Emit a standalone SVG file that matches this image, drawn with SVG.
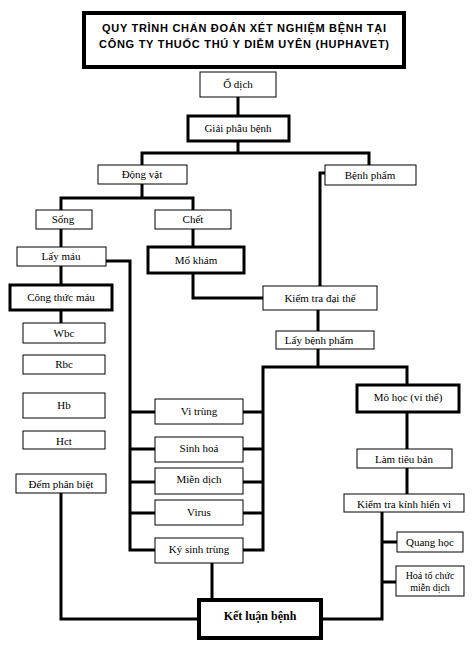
<svg xmlns="http://www.w3.org/2000/svg" width="472" height="648" viewBox="0 0 472 648">
<style>
.bx{fill:#fff;stroke:#000;stroke-width:1}
.bk{fill:#fff;stroke:#000;stroke-width:3}
.bt{fill:#fff;stroke:#000;stroke-width:4}
.t{font-family:"Liberation Serif","Times New Roman",serif;font-size:11px;fill:#000;text-anchor:middle}
.tb{font-family:"Liberation Serif","Times New Roman",serif;font-size:12px;font-weight:bold;fill:#000;text-anchor:middle}
.ts{font-family:"Liberation Sans",Arial,sans-serif;font-size:11px;font-weight:bold;fill:#000;text-anchor:middle}
.c{fill:none;stroke:#000;stroke-width:3;stroke-linejoin:miter;stroke-linecap:butt}
</style>
<rect width="472" height="648" fill="#fff"/>
<g id="connectors">
<path class="c" d="M238,97V116"/>
<path class="c" d="M238,141V153M142,165V153H369V165"/>
<path class="c" d="M142,184V198M61,210V198H193V210"/>
<path class="c" d="M325,173H320V286"/>
<path class="c" d="M61,229V247M61,266V285M61,310V323"/>
<path class="c" d="M106,261H130V550H155M130,412H155M130,449H155M130,482H155M130,513H155"/>
<path class="c" d="M193,229V247M193,273V298H263"/>
<path class="c" d="M318,310V331M318,349V367"/>
<path class="c" d="M407,385V367H263V550H243M243,412H263M243,449H263M243,482H263M243,513H263"/>
<path class="c" d="M407,412V449M407,468V494"/>
<path class="c" d="M382,512V619H321M382,542H397M382,582H396"/>
<path class="c" d="M212,563V600"/>
<path class="c" d="M61,493V619H199"/>
</g>
<g id="title"><rect class="bt" x="84" y="13" width="320" height="54"/>
<text class="ts" x="244" y="32" textLength="284" lengthAdjust="spacing">QUY TRÌNH CHẨN ĐOÁN XÉT NGHIỆM BỆNH TẠI</text>
<text class="ts" x="244" y="48" textLength="290" lengthAdjust="spacing">CÔNG TY THUỐC THÚ Y DIỄM UYÊN (HUPHAVET)</text></g>
<g id="o-dich"><rect class="bx" x="200" y="72" width="76" height="25"/><text class="t" x="238" y="88">Ổ dịch</text></g>
<g id="giai-phau-benh"><rect class="bk" x="188" y="116" width="101" height="25"/><text class="t" x="238" y="132">Giải phẫu bệnh</text></g>
<g id="dong-vat"><rect class="bx" x="98" y="165" width="89" height="19"/><text class="t" x="142" y="178">Động vật</text></g>
<g id="benh-pham"><rect class="bx" x="325" y="165" width="91" height="20"/><text class="t" x="370" y="179">Bệnh phẩm</text></g>
<g id="song"><rect class="bx" x="36" y="210" width="56" height="19"/><text class="t" x="63" y="223">Sống</text></g>
<g id="chet"><rect class="bx" x="155" y="210" width="76" height="19"/><text class="t" x="193" y="223">Chết</text></g>
<g id="lay-mau"><rect class="bx" x="17" y="247" width="89" height="19"/><text class="t" x="61" y="260">Lấy máu</text></g>
<g id="mo-kham"><rect class="bk" x="148" y="247" width="96" height="26"/><text class="t" x="196" y="264">Mổ khám</text></g>
<g id="cong-thuc-mau"><rect class="bk" x="10" y="285" width="102" height="25"/><text class="t" x="61" y="301">Công thức máu</text></g>
<g id="kiem-tra-dai-the"><rect class="bx" x="263" y="286" width="114" height="24"/><text class="t" x="320" y="302">Kiểm tra đại thể</text></g>
<g id="lay-benh-pham"><rect class="bx" x="276" y="331" width="98" height="18"/><text class="t" x="319" y="344">Lấy bệnh phẩm</text></g>
<g id="wbc"><rect class="bx" x="23" y="323" width="82" height="20"/><text class="t" x="64" y="337">Wbc</text></g>
<g id="rbc"><rect class="bx" x="23" y="355" width="82" height="19"/><text class="t" x="64" y="368">Rbc</text></g>
<g id="hb"><rect class="bx" x="23" y="393" width="82" height="25"/><text class="t" x="64" y="409">Hb</text></g>
<g id="hct"><rect class="bx" x="23" y="431" width="82" height="18"/><text class="t" x="64" y="445">Hct</text></g>
<g id="dem-phan-biet"><rect class="bx" x="16" y="474" width="90" height="19"/><text class="t" x="61" y="488">Đếm phân biệt</text></g>
<g id="vi-trung"><rect class="bx" x="155" y="399" width="88" height="25"/><text class="t" x="199" y="415">Vi trùng</text></g>
<g id="sinh-hoa"><rect class="bx" x="155" y="437" width="88" height="25"/><text class="t" x="199" y="452">Sinh hoá</text></g>
<g id="mien-dich"><rect class="bx" x="155" y="468" width="88" height="26"/><text class="t" x="199" y="483">Miễn dịch</text></g>
<g id="virus"><rect class="bx" x="155" y="500" width="88" height="25"/><text class="t" x="199" y="516">Virus</text></g>
<g id="ky-sinh-trung"><rect class="bx" x="155" y="538" width="88" height="25"/><text class="t" x="199" y="553">Ký sinh trùng</text></g>
<g id="mo-hoc"><rect class="bk" x="357" y="385" width="102" height="27"/><text class="t" x="408" y="401">Mô học (vi thể)</text></g>
<g id="lam-tieu-ban"><rect class="bx" x="357" y="449" width="95" height="19"/><text class="t" x="404" y="463">Làm tiêu  bản</text></g>
<g id="kiem-tra-kinh-hien-vi"><rect class="bx" x="344" y="494" width="120" height="18"/><text class="t" x="404" y="508">Kiểm tra kính hiển vi</text></g>
<g id="quang-hoc"><rect class="bx" x="397" y="532" width="66" height="20"/><text class="t" x="430" y="546">Quang học</text></g>
<g id="hoa-to-chuc"><rect class="bx" x="396" y="566" width="68" height="30"/><text class="t" x="430" y="579" style="font-size:10px">Hoá tổ chức</text><text class="t" x="430" y="591" style="font-size:10px">miễn dịch</text></g>
<g id="ket-luan-benh"><rect class="bt" x="199" y="600" width="122" height="38"/><text class="tb" x="260" y="620">Kết luận bệnh</text></g>
</svg>
